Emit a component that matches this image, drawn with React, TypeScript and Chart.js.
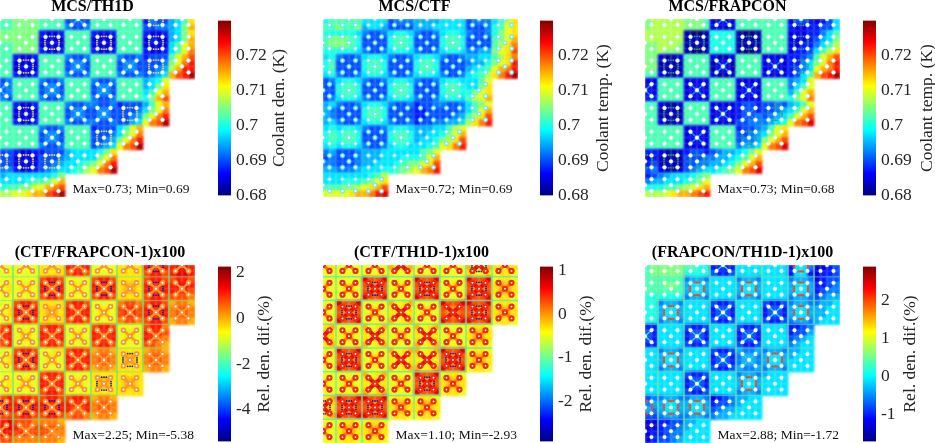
import React, { useEffect, useRef } from "react";
import { Chart, registerables } from "chart.js";
Chart.register(...registerables);

// Colour-scale position of each cell, one letter per sub-cell: a = bottom of the bar, u = top (steps of 1/20).
// Four sub-cells per assembly; the first row and column of assemblies are cut in half.
const th1dRows = [
  "jj kkkk jjjj eeee jjjj jjjj dfee ghjn","jj kkkk jjjj feef jjjj jjjj eeff ghko",
  "kk kkkk dccd jjjj dccd jjjj dccd ghkn","kk kkkk cccc jjjj cccc jjjj cdcc ghko","jj kkkk cccc jjjj cccc jjjj cccc hjmo","jj kkkk dccd jjjj dccd jjjj dccd hjmp",
  "jj dccd jjjj feef jjjj feef deee jmoq","jj cccc jjjj effe jjjj effe eeef kmpr","jj cccc jjjj effe jjjj effe eefg lorr","jj dccd jjjj feef jjjj feef efgh oqrt",
  "ef jjjj feef jjjj feef jjjj ghim","ef jjjj effe jjjj effe jjjj ghkn","ef jjjj effe jjjj effe jjjj hjmo","fe jjjj feef jjjj feef jjjj ikoq",
  "jj dccd jjjj feef feef deee gjmo","jj cccc jjjj effe effe eeef hkmp","jj cccc jjjj effe effe eefg kmpr","jj dccd jjjj feef feef eegh mpqt",
  "jj jjjj feef jjjj deee hjmo","jj jjjj effe jjjj eeef hkmp","jj jjjj effe jjjj eefg kmpr","jj jjjj feef jjjj efgh mpqt",
  "ee dccd deee ghhh hikn","ee cccc eeef ghhh hkmp","ee cccc eefg hhij kmpr","ff dccd efgh hijl mpqt",
  "gh hhhh hhik","hh hhij jkmo","ij jkkm mopq","ll mmno oqrt",
];
const ctfRows = [
  "ij jjjj hhhh efff gggg hhhh efff hjln","jj kjjk ghhg eeee gggh hhhh eeef ijmn",
  "ii iiih feef hiih feef hiih feef ikmn","jk kkji eeee ijji eeee ijji eeee jkmo","jk kkji eeee ijji eeee ijji eeee jlnp","ii iiih feef hiih feef hiih ffgg kmnq",
  "hi feef hiih feef hiih feef gghh jlnp","ij eeee ijji eeee ijji eeee fggi kmnr","ij eeee ijji eeee ijji eeee ghij mopr","hi feef hiih feef hiih feef hijl nprt",
  "ef hiih feef hiih feef hiih hhjm","ee ijji eeee ijji eeee ijji hhkn","ee ijji eeee ijji eeee ijji ikmn","ef hiih feef hiih feef hiih jlmo",
  "gh feef hiih feef deef feef hjkm","gf eeee ijji eeee ddee eeef hjmo","gf eeee ijji eeee ddee eefg jlnq","gh feef hiih feef deef fggh lnpr",
  "hi hiih feef hiih gggh hjlm","ij ijji eeee ijji gghh ikmo","ij ijji eeee ijji ghhi klnq","hi hiih feef hiih hhij mnpr",
  "fg eeef gggh hhhh hjkm","ef eeef gggh hhii ijmo","ff eeef gghh hijk kmnq","gg fffg hhhi ijkl mopr",
  "hh hhhh hijl","hh hiii jkmn","jj jkkl mnoq","mm mmno oprs",
];
const frapconRows = [
  "kl llll kkkj cccc jjjj jjjj ceed cdeh","kl llll kkkj cccc jjjj jjjj dccd deeh",
  "ll llll baab iiii baab jjjj cccd dfhj","ll llll bbbb iiii bbbb jjjj cccd eghk","kk lllk bbbb iiii bbbb jjjj ccdd fhjl","kk lkkk baab iiii baab jjjj cdde hjln",
  "kk cbbc jjjj cbbc jjjj cccc ddef jmoq","kk bbbb jjjj bccb jjjj cccc ddfh kmpr","kk bbbb jjjj bccb jjjj cccc defh mopr","jj cbbc jjjj cbbc jjjj cccc dehj oqrt",
  "cc jjjj cccc jjjj cccc jjjj fghm","cc jjjj cccc jjjj cccc jjjj fhjm","cc jjjj cccc jjjj cccc jjjj gjmo","dd jjjj cccc jjjj cccc jjjj ikmp",
  "jj cbbc jjjj cccc deed eefe ghjm","jj bbbb jjjj cccc deed eefg hjmo","jj bbbb jjjj cccc deef efgh jmoq","jj cbbc jjjj cccc eeff fghi mpqs",
  "jj jjjj cccc jjjj deef gjmn","jj jjjj cccc jjjj eefg hkmo","jj jjjj cccc jjjj effg kmoq","jj jjjj cccc jjjj fggh mpqs",
  "dd cbbc deed efgg hikm","cd bbbb eeef fggh ijmo","de bbbb eeff gghi kmoq","ef cbbc efgh hijk mpqs",
  "de fghh hijk","fg ghhh ijkm","ii ijjk lmno","ll lmno opqr",
];
const ctfFrapconRows = [
  "mm mmmm nnnn rrrr mmmm nnnn rrrr rssr","mm mmmm nnnn qrrq mmmm nnnn qrrq rssr",
  "mm mmmm qrrq mmmm qrrq nnnn qrrq qrrq","mn mnnm rrrr mnnm rrrr noon rrrr rssr","mn mnnm rrrr mnnm rrrr noon rrrr rrrq","mm mmmm qrrq mmmm qrrq nnnn qrrq qqqp",
  "mm qrrq nnnn qrrq mmmm pqqp qrrq oppo","mn rrrr noon rrrr mnnm qrrq rrrr pqqp","mn rrrr noon rrrr mnnm qrrq rrrr pqqp","mm qrrq nnnn qrrq mmmm pqqp qrrq oppo",
  "qr mmmm qrrq mmmm qrrq mmmm qrrp","rr mnnm rrrr mnnm rrrr mnnm rrrq","rr mnnm rrrr mnnm rrrr mnnm rrqp","qr mmmm qrrq mmmm qrrq mmmm qqpo",
  "mm qrrq mmnn qrrq oppo nnnn oppo","mn rrrr mnnm rrrr pqqp noon pqqp","mn rrrr mnnm rrrr pqqp noon pqqp","mm qrrq mmmm qrrq oppo nnnn oppo",
  "mm mmmm qrrq mmmm nnnn nnnn","mn mnnm rrrr mnnm noon noon","mn mnnm rrrr mnnm noon noon","mm mmmm qrrq mmmm nnnn nnnn",
  "qr qrrq qrrq qrrq oppo","rr rrrr rrrr rrrr pqqp","rr rrrr rrrr rqqr pqqp","qq qrrq qrrq pqqp oppo",
  "rs qqqp pppo","ss rqqq qqqp","sr qrqq qqpp","qq pppp pppo",
];
const ctfTh1dRows = [
  "nn mmmm mmmm onno mmmm mmmm onno nnnn","mm mmmm mmmm nmmn mmmm mmmm nmmn mnnm",
  "mm mmmm sqqs mmmm sqqs mmmm sqqs mnnm","nm mnnm qppq mnnm qppq mnnm qppq noon","nm mnnm qppq mnnm qppq mnnm qppq noon","mm mmmm sqqs mmmm sqqs mmmm sqqs mnnm",
  "mm sqqs mmmm omno mmmm sqqs sqqs mnnm","nm qppq mnnm nnnn mnnm qppq qppq noon","nm qppq mnnm nnnn mnnm qppq qppq noon","mm sqqs mmmm omno mmmm sqqs sqqs mnnm",
  "no mmmm omno mmmm omno mmmm mnnm","on mnnm nnnn mnnm nnnn mnnm noon","on mnnm nnnn mnnm nnnn mnnm noon","no mmmm omno mmmm omno mmmm mnnm",
  "mm sqqs mmmm omno omno sqqs mnnm","nm qppq mnnm nnnn nnnn qppq noon","nm qppq mnnm nnnn nnnn qppq noon","mm sqqs mmmm omno omno sqqs mnnm",
  "mm mmmm omno mmmm sqqs mnnm","nm mnnm nnnn mnnm qppq noon","nm mnnm nnnn mnnm qppq noon","mm mmmm omno mmmm sqqs mnnm",
  "no sqqs sqqs mnnm mnnm","on qppq qppq noon noon","on qppq qppq noon noon","no sqqs sqqs mnnm mnnm",
  "mm mnnm mnnm","nm noon noon","nm noon noon","mm mnnm mnnm",
];
const frapconTh1dRows = [
  "jk kkkk jjii dddd hhhh hhhh dhhf ccde","jk kkkk iiii edde hhhh hhhh dhhd cdde",
  "jj jjjj fggf hhhh fggf hhhh fggf cdee","jj jkkj ghhg hhhh ghhg hhhh ghhg ddef","jj jjjj ghhg hhhh ghhg hhhh ghhg deff","ii iiii fggf hhhh fggf hhhh fggf efgg",
  "ii fggf hhhh edde hhhh edde fggf fggh","ii ghhg hhhh deed hhhh deed ghhg gghh","ii ghhg hhhh deed hhhh deed ghhg gghh","ii fggf hhhh edde hhhh edde fggf ghhh",
  "dd hhhh edde hhhh edde hhhh ddef","ed hhhh deed hhhh deed hhhh deeg","ed hhhh deed hhhh deed hhhh efgh","dd hhhh edde hhhh edde hhhh fghh",
  "hh fggf hhhh edde gffg fggf gghh","hh ghhg hhhh deed fggf ghhg ghhh","hh ghhg hhhh deed fggf ghhg hhhh","hh fggf hhhh edde gffg fggf hhhh",
  "hh hhhh edde hhhh fggf ghhh","hh hhhh deed hhhh ghhg hhhh","hh hhhh deed hhhh ghhg hhhh","hh hhhh edde hhhh fggf hhhh",
  "ef fggf fggf cdef gghh","fg ghhg ghhg deef ghhh","gf ghhg ghhg efgg hhhh","ee fggf fggf fggh hhhh",
  "cc ddee gghh","cc deef ghhh","cd deff hhhh","cd eefg hhhh",
];

// Assemblies per row, guide-tube offsets inside an assembly, and the assemblies with extra features.
const assembliesPerRow = [8, 8, 8, 7, 7, 6, 5, 3];
const pinOffsets = [[-0.25, -0.25], [0.25, -0.25], [0, 0], [-0.25, 0.25], [0.25, 0.25]];
const ringOffsets = [[-0.27, -0.09], [-0.27, 0.09], [0.27, -0.09], [0.27, 0.09], [-0.09, -0.27], [0.09, -0.27], [-0.09, 0.27], [0.09, 0.27], [0, -0.27], [0, 0.27], [-0.27, 0], [0.27, 0]];
const ringAssemblies = [[0, 6], [1, 2], [1, 4], [1, 6], [2, 1], [2, 6], [4, 1], [4, 5], [5, 4], [6, 0], [6, 1], [6, 2]];
const crossAssemblies = [[0, 3], [2, 3], [2, 5], [3, 0], [3, 2], [3, 4], [4, 3], [4, 4], [5, 2]];
const armReach = 0.33;

const titles = ["MCS/TH1D", "MCS/CTF", "MCS/FRAPCON", "(CTF/FRAPCON-1)x100", "(CTF/TH1D-1)x100", "(FRAPCON/TH1D-1)x100"];
const notes = ["Max=0.73; Min=0.69", "Max=0.72; Min=0.69", "Max=0.73; Min=0.68", "Max=2.25; Min=-5.38", "Max=1.10; Min=-2.93", "Max=2.88; Min=-1.72"];
const barLabels = ["Coolant den. (K)", "Coolant temp. (K)", "Coolant temp. (K)", "Rel. den. dif.(%)", "Rel. den. dif.(%)", "Rel. den. dif.(%)"];
const barMins = [0.68, 0.68, 0.68, -5.38, -2.93, -1.72];
const barMaxs = [0.73, 0.73, 0.73, 2.25, 1.1, 2.88];
const barTicks = [
  [0.68, 0.69, 0.7, 0.71, 0.72], [0.68, 0.69, 0.7, 0.71, 0.72], [0.68, 0.69, 0.7, 0.71, 0.72],
  [-4, -2, 0, 2], [-2, -1, 0, 1], [-1, 0, 1, 2],
];
const allRows = [th1dRows, ctfRows, frapconRows, ctfFrapconRows, ctfTh1dRows, frapconTh1dRows];

// Layout and per-panel styling
const plotLefts = [0, 323, 645, 0, 323, 645];
const plotTops = [19, 19, 19, 265, 265, 265];
const plotWidth = 195;
const plotHeight = 178;
const titleShift = [-5, -6, -15, 2.5, 1, 0];
const barLefts = [218, 540, 863, 218, 540, 863];
const barLabelOffset = [48.5, 50, 51, 33.5, 33.5, 34];
const pinRadius = [1.9, 1.8, 1.9, 1.9, 2, 1.9];
const pinBorder = [1, 1.5, 1, 1.7, 2.2, 0.8];
const pinRing = ["rgba(190,245,255,0.6)", "rgba(100,230,255,0.75)", "rgba(190,245,255,0.6)", "#f59438", "#ee2c12", "rgba(255,255,255,0.3)"];
const ringColor = ["#e8d34a", "", "#2f9a7a", "#10208a", "#1a1a8a", "#f04a20"];
const ringRadius = [0.9, 0, 0.9, 0.9, 0.9, 1.2];
const armColor = ["#12a8ff", "", "#1a78ff", "", "#e01008", "#30c8e8"];
const armWidth = [2.2, 0, 1.8, 0, 4, 1.6];
const armOnRings = [false, false, false, false, true, false];
const softArmColor = ["", "", "", "#ff9a1e", "#ff7a0c", ""];
const softArmWidth = [0, 0, 0, 2.5, 3, 0];
const gapColor = ["", "", "", "rgba(110,225,120,0.6)", "rgba(90,235,170,0.8)", "rgba(120,230,150,0.5)"];
const gapWidth = [0, 0, 0, 1, 1.5, 1];
const FONT = "'Liberation Serif'";

function jet(t: number) {
  const c = (v: number) => Math.round(255 * Math.max(0, Math.min(1, 1.5 - Math.abs(4 * t - v))));
  return `rgb(${c(3)},${c(2)},${c(1)})`;
}

const BREAK = { x: null, y: null };
const crossLines = (list: number[][]) => {
  const out: any[] = [];
  list.forEach(([r, c]) => {
    out.push({ x: c - armReach, y: r - armReach }, { x: c + armReach, y: r + armReach }, BREAK,
      { x: c + armReach, y: r - armReach }, { x: c - armReach, y: r + armReach }, BREAK);
  });
  return out;
};

function Heat({ i }: { i: number }) {
  const ref = useRef<HTMLCanvasElement>(null);
  const shift = titleShift[i];
  const padL = shift < 0 ? -2 * shift : 0;
  const padR = shift > 0 ? 2 * shift : 0;
  const width = Math.round(padL + plotWidth + padR);
  const height = Math.round(20 + plotHeight);
  useEffect(() => {
    const lo = barMins[i], hi = barMaxs[i];
    const cells: any[] = [];
    allRows[i].forEach((row, ry) => {
      row.replace(/ /g, "").split("").forEach((ch, cx) => {
        const t = (ch.charCodeAt(0) - 97) / 20;
        cells.push({ x: (cx + 0.5) / 4, y: (ry + 0.5) / 4, v: lo + t * (hi - lo) });
      });
    });
    const pins: any[] = [];
    const everyAssembly: number[][] = [];
    assembliesPerRow.forEach((n, r) => {
      for (let c = 0; c < n; c++) {
        everyAssembly.push([r, c]);
        pinOffsets.forEach(([dx, dy]) => {
          if (c + dx >= 0 && r + dy >= 0) pins.push({ x: c + dx, y: r + dy });
        });
      }
    });
    const rings: any[] = [];
    ringAssemblies.forEach(([r, c]) => ringOffsets.forEach(([dx, dy]) => {
      if (c + dx >= 0 && r + dy >= 0) rings.push({ x: c + dx, y: r + dy });
    }));
    const arms = crossLines(armOnRings[i] ? [...crossAssemblies, ...ringAssemblies] : crossAssemblies);
    const softArms = crossLines(everyAssembly);
    const gaps: any[] = [];
    assembliesPerRow.forEach((n, r) => {
      const below = assembliesPerRow[r + 1] ?? 0;
      if (below) gaps.push({ x: 0, y: r + 0.5 }, { x: Math.min(n, below) - 0.5, y: r + 0.5 }, BREAK);
      for (let c = 0; c < n - 1; c++) gaps.push({ x: c + 0.5, y: Math.max(0, r - 0.5) }, { x: c + 0.5, y: r + 0.5 }, BREAK);
    });
    const hiddenAxis = (position: string, size: number, extra: any = {}) => ({
      position, display: true, ticks: { display: false }, grid: { display: false }, border: { display: false },
      afterFit: (s: any) => { s.width = size; }, ...extra,
    });
    const CELLS = 5;
    const chart = new Chart(ref.current!, {
      type: "scatter",
      data: {
        datasets: [
          { label: "Guide tubes", data: pins, pointRadius: pinRadius[i], pointBorderWidth: pinBorder[i], pointBackgroundColor: "#fff", pointBorderColor: pinRing[i] },
          { label: "Poison pins", data: ringColor[i] ? rings : [], pointRadius: ringRadius[i], pointBorderWidth: 0, pointBackgroundColor: ringColor[i] },
          { label: "Arms", data: armColor[i] ? arms : [], showLine: true, spanGaps: false, pointRadius: 0, borderWidth: armWidth[i], borderColor: armColor[i] },
          { label: "Soft arms", data: softArmColor[i] ? softArms : [], showLine: true, spanGaps: false, pointRadius: 0, borderWidth: softArmWidth[i], borderColor: softArmColor[i] },
          { label: "Gaps", data: gapColor[i] ? gaps : [], showLine: true, spanGaps: false, pointRadius: 0, borderWidth: gapWidth[i], borderColor: gapColor[i] },
          {
            label: "Cells", data: cells, pointStyle: "rect", pointBorderWidth: 0,
            pointRadius: (c: any) => {
              const sx = c.chart.scales.x, sy = c.chart.scales.y;
              const w = Math.abs(sx.getPixelForValue(0.25) - sx.getPixelForValue(0));
              const h = Math.abs(sy.getPixelForValue(0.25) - sy.getPixelForValue(0));
              return (Math.max(w, h) + 0.6) * Math.SQRT1_2;
            },
            pointBackgroundColor: (c: any) => jet(((c.raw?.v ?? lo) - lo) / (hi - lo)),
          },
        ],
      } as any,
      options: {
        animation: false, responsive: false, events: [], devicePixelRatio: 1,
        layout: { padding: 0, autoPadding: false },
        plugins: {
          legend: { display: false }, tooltip: { enabled: false },
          title: { display: true, text: titles[i], color: "#000", font: { family: FONT, size: 16, weight: "bold", lineHeight: 1 }, padding: { top: 0, bottom: 4 } },
        },
        scales: {
          x: { type: "linear", min: 0, max: 7.5, display: false },
          y: hiddenAxis("left", padL, { type: "linear", min: 0, max: 7.5, reverse: true }),
          yR: hiddenAxis("right", padR, { type: "linear" }),
        },
      } as any,
      plugins: [{
        id: "note",
        beforeDatasetDraw(ch: any, args: any) { if (args.index === CELLS) ch.ctx.filter = "blur(0.9px)"; },
        afterDatasetDraw(ch: any, args: any) { if (args.index === CELLS) ch.ctx.filter = "none"; },
        afterDraw(ch: any) {
          const g = ch.ctx;
          g.save();
          g.font = `13.5px ${FONT}`; g.fillStyle = "#111"; g.textBaseline = "middle"; g.textAlign = "left";
          g.fillText(notes[i], ch.scales.x.getPixelForValue(2.79), ch.scales.y.getPixelForValue(7.17));
          g.restore();
        },
      }],
    });
    return () => chart.destroy();
  }, [i]);
  return <canvas ref={ref} width={width} height={height} style={{ position: "absolute", left: plotLefts[i] - padL, top: plotTops[i] - 20, width, height }} />;
}

function Bar({ i }: { i: number }) {
  const ref = useRef<HTMLCanvasElement>(null);
  const axisW = 72, barW = 12.5, pad = 14;
  const width = Math.round(axisW + barW), height = Math.round(plotHeight + 2 * pad);
  useEffect(() => {
    const chart = new Chart(ref.current!, {
      type: "bar",
      data: {
        labels: [""],
        datasets: [{
          data: [[barMins[i], barMaxs[i]]], barPercentage: 1, categoryPercentage: 1, borderWidth: 0,
          backgroundColor: (c: any) => {
            const a = c.chart.chartArea;
            if (!a) return "#00f";
            const g = c.chart.ctx.createLinearGradient(0, a.bottom, 0, a.top);
            for (let k = 0; k <= 32; k++) g.addColorStop(k / 32, jet(k / 32));
            return g;
          },
        }],
      } as any,
      options: {
        animation: false, responsive: false, events: [], devicePixelRatio: 1,
        layout: { padding: { top: pad, bottom: pad } },
        plugins: { legend: { display: false }, tooltip: { enabled: false } },
        scales: {
          x: { display: false },
          y: {
            position: "right", min: barMins[i], max: barMaxs[i],
            grid: { display: false, drawTicks: false }, border: { display: false },
            afterBuildTicks: (s: any) => { s.ticks = barTicks[i].map((value) => ({ value })); },
            afterFit: (s: any) => { s.width = axisW; },
            ticks: { color: "#262626", padding: 5, font: { family: FONT, size: 17.5 }, callback: (v: any) => String(v), autoSkip: false },
          },
        },
      } as any,
      plugins: [{
        id: "barLabel",
        afterDraw(ch: any) {
          const g = ch.ctx, a = ch.chartArea;
          g.save();
          g.translate(a.right + barLabelOffset[i], (a.top + a.bottom) / 2);
          g.rotate(-Math.PI / 2);
          g.font = `17.5px ${FONT}`; g.fillStyle = "#262626"; g.textAlign = "center"; g.textBaseline = "middle";
          g.fillText(barLabels[i], 0, 0);
          g.restore();
        },
      }],
    });
    return () => chart.destroy();
  }, [i]);
  return <canvas ref={ref} width={width} height={height} style={{ position: "absolute", left: barLefts[i], top: plotTops[i] - pad, width, height }} />;
}

export default function App() {
  return (
    <div style={{ position: "fixed", left: 0, top: 0, width: 935, height: 443, overflow: "hidden", background: "#fff" }}>
      {titles.map((_, i) => <Heat key={"h" + i} i={i} />)}
      {titles.map((_, i) => <Bar key={"b" + i} i={i} />)}
    </div>
  );
}
